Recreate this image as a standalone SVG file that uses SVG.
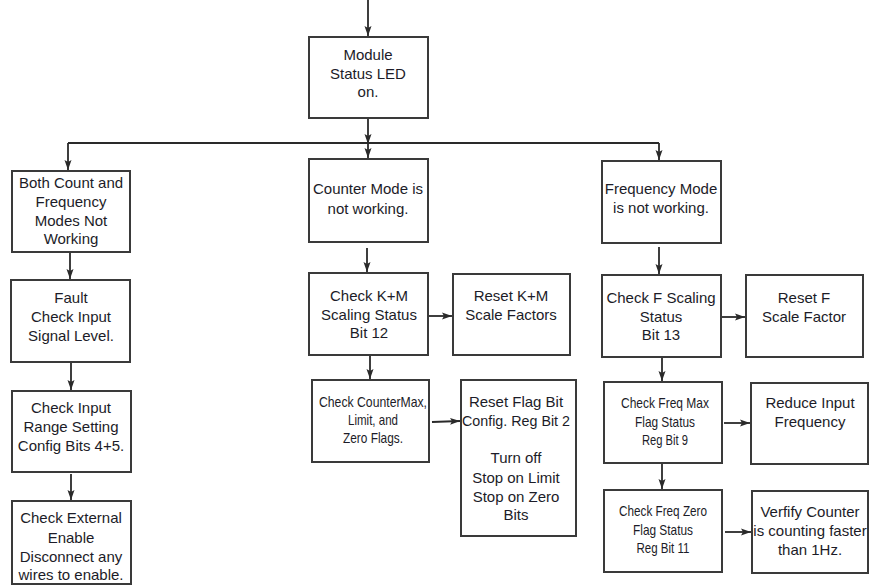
<svg xmlns="http://www.w3.org/2000/svg" width="869" height="588" viewBox="0 0 869 588">
<style>
.box{fill:#fff;stroke:#3a3a3a;stroke-width:2}
.t{font-family:"Liberation Sans",Arial,sans-serif;font-size:15px;fill:#1c1c28;text-anchor:middle}
.c{fill:none;stroke:#2a2a2a;stroke-width:1.8}
</style>
<defs>
<marker id="ah" markerUnits="userSpaceOnUse" markerWidth="11" markerHeight="8" refX="10" refY="4" orient="auto">
<path d="M0,0.5 L10,4 L0,7.5 L2,4 z" fill="#2a2a2a"/>
</marker>
</defs>
<rect width="869" height="588" fill="#fff"/>
<g id="connectors">
<line class="c" x1="368" y1="0" x2="368" y2="36" marker-end="url(#ah)"/>
<line class="c" x1="368" y1="118" x2="368" y2="144" marker-end="url(#ah)"/>
<line class="c" x1="368" y1="143" x2="368" y2="158" marker-end="url(#ah)"/>
<line class="c" x1="68" y1="143" x2="659" y2="143"/>
<line class="c" x1="68" y1="143" x2="68" y2="170" marker-end="url(#ah)"/>
<line class="c" x1="659" y1="143" x2="659" y2="160" marker-end="url(#ah)"/>
<line class="c" x1="70" y1="252" x2="70" y2="279" marker-end="url(#ah)"/>
<line class="c" x1="71" y1="362" x2="71" y2="390" marker-end="url(#ah)"/>
<line class="c" x1="71" y1="474" x2="71" y2="500" marker-end="url(#ah)"/>
<line class="c" x1="367" y1="248" x2="367" y2="272" marker-end="url(#ah)"/>
<line class="c" x1="428" y1="316" x2="452" y2="316" marker-end="url(#ah)"/>
<line class="c" x1="370" y1="355" x2="370" y2="379" marker-end="url(#ah)"/>
<line class="c" x1="432" y1="422" x2="460" y2="421" marker-end="url(#ah)"/>
<line class="c" x1="659" y1="247" x2="659" y2="274" marker-end="url(#ah)"/>
<line class="c" x1="721" y1="317" x2="745" y2="317" marker-end="url(#ah)"/>
<line class="c" x1="662" y1="357" x2="662" y2="381" marker-end="url(#ah)"/>
<line class="c" x1="724" y1="423" x2="750" y2="423" marker-end="url(#ah)"/>
<line class="c" x1="662" y1="463" x2="662" y2="489" marker-end="url(#ah)"/>
<line class="c" x1="725" y1="532" x2="751" y2="532" marker-end="url(#ah)"/>
</g>
<g id="module-status">
<rect class="box" x="309" y="37" width="119" height="81"/>
<text class="t" x="368" y="60">Module</text>
<text class="t" x="368" y="79">Status LED</text>
<text class="t" x="368" y="97">on.</text>
</g>
<g id="both-modes">
<rect class="box" x="12" y="171" width="118" height="81"/>
<text class="t" x="71" y="188">Both Count and</text>
<text class="t" x="71" y="207">Frequency</text>
<text class="t" x="71" y="226">Modes Not</text>
<text class="t" x="71" y="244">Working</text>
</g>
<g id="counter-mode">
<rect class="box" x="309" y="159" width="119" height="83"/>
<text class="t" x="368" y="194">Counter Mode is</text>
<text class="t" x="368" y="214">not working.</text>
</g>
<g id="frequency-mode">
<rect class="box" x="602" y="161" width="119" height="82"/>
<text class="t" x="661" y="194">Frequency Mode</text>
<text class="t" x="661" y="213">is not working.</text>
</g>
<g id="fault">
<rect class="box" x="11" y="280" width="119" height="82"/>
<text class="t" x="71" y="303">Fault</text>
<text class="t" x="71" y="322">Check Input</text>
<text class="t" x="71" y="341">Signal Level.</text>
</g>
<g id="input-range">
<rect class="box" x="12" y="391" width="119" height="81"/>
<text class="t" x="71" y="413">Check Input</text>
<text class="t" x="71" y="432">Range Setting</text>
<text class="t" x="71" y="451">Config Bits 4+5.</text>
</g>
<g id="external-enable">
<rect class="box" x="12" y="501" width="119" height="83"/>
<text class="t" x="71" y="523">Check External</text>
<text class="t" x="71" y="543">Enable</text>
<text class="t" x="71" y="562">Disconnect any</text>
<text class="t" x="71" y="580">wires to enable.</text>
</g>
<g id="check-km">
<rect class="box" x="309" y="273" width="119" height="82"/>
<text class="t" x="369" y="301">Check K+M</text>
<text class="t" x="369" y="320">Scaling Status</text>
<text class="t" x="369" y="338">Bit 12</text>
</g>
<g id="reset-km">
<rect class="box" x="453" y="274" width="117" height="81"/>
<text class="t" x="511" y="301">Reset K+M</text>
<text class="t" x="511" y="320">Scale Factors</text>
</g>
<g id="check-counter-max">
<rect class="box" x="312" y="380" width="117" height="82"/>
<text class="t" x="373" y="407" textLength="108" lengthAdjust="spacingAndGlyphs">Check CounterMax,</text>
<text class="t" x="373" y="425" textLength="50" lengthAdjust="spacingAndGlyphs">Limit, and</text>
<text class="t" x="373" y="443" textLength="60" lengthAdjust="spacingAndGlyphs">Zero Flags.</text>
</g>
<g id="reset-flag">
<rect class="box" x="461" y="380" width="115" height="156"/>
<text class="t" x="516" y="407">Reset Flag Bit</text>
<text class="t" x="516" y="426" textLength="108" lengthAdjust="spacingAndGlyphs">Config. Reg Bit 2</text>
<text class="t" x="516" y="463">Turn off</text>
<text class="t" x="516" y="483">Stop on Limit</text>
<text class="t" x="516" y="502">Stop on Zero</text>
<text class="t" x="516" y="520">Bits</text>
</g>
<g id="check-f-scaling">
<rect class="box" x="602" y="275" width="119" height="82"/>
<text class="t" x="661" y="303">Check F Scaling</text>
<text class="t" x="661" y="322">Status</text>
<text class="t" x="661" y="340">Bit 13</text>
</g>
<g id="reset-f">
<rect class="box" x="746" y="275" width="117" height="82"/>
<text class="t" x="804" y="303">Reset F</text>
<text class="t" x="804" y="322">Scale Factor</text>
</g>
<g id="check-freq-max">
<rect class="box" x="604" y="382" width="118" height="81"/>
<text class="t" x="665" y="408" textLength="88" lengthAdjust="spacingAndGlyphs">Check Freq Max</text>
<text class="t" x="665" y="427" textLength="60" lengthAdjust="spacingAndGlyphs">Flag Status</text>
<text class="t" x="665" y="445" textLength="46" lengthAdjust="spacingAndGlyphs">Reg Bit 9</text>
</g>
<g id="reduce-input">
<rect class="box" x="751" y="383" width="117" height="81"/>
<text class="t" x="810" y="408">Reduce Input</text>
<text class="t" x="810" y="427">Frequency</text>
</g>
<g id="check-freq-zero">
<rect class="box" x="604" y="490" width="118" height="82"/>
<text class="t" x="663" y="516" textLength="88" lengthAdjust="spacingAndGlyphs">Check Freq Zero</text>
<text class="t" x="663" y="535" textLength="60" lengthAdjust="spacingAndGlyphs">Flag Status</text>
<text class="t" x="663" y="553" textLength="53" lengthAdjust="spacingAndGlyphs">Reg Bit 11</text>
</g>
<g id="verify-counter">
<rect class="box" x="752" y="491" width="116" height="82"/>
<text class="t" x="810" y="517">Verfify Counter</text>
<text class="t" x="810" y="536">is counting faster</text>
<text class="t" x="810" y="555">than 1Hz.</text>
</g>
</svg>
